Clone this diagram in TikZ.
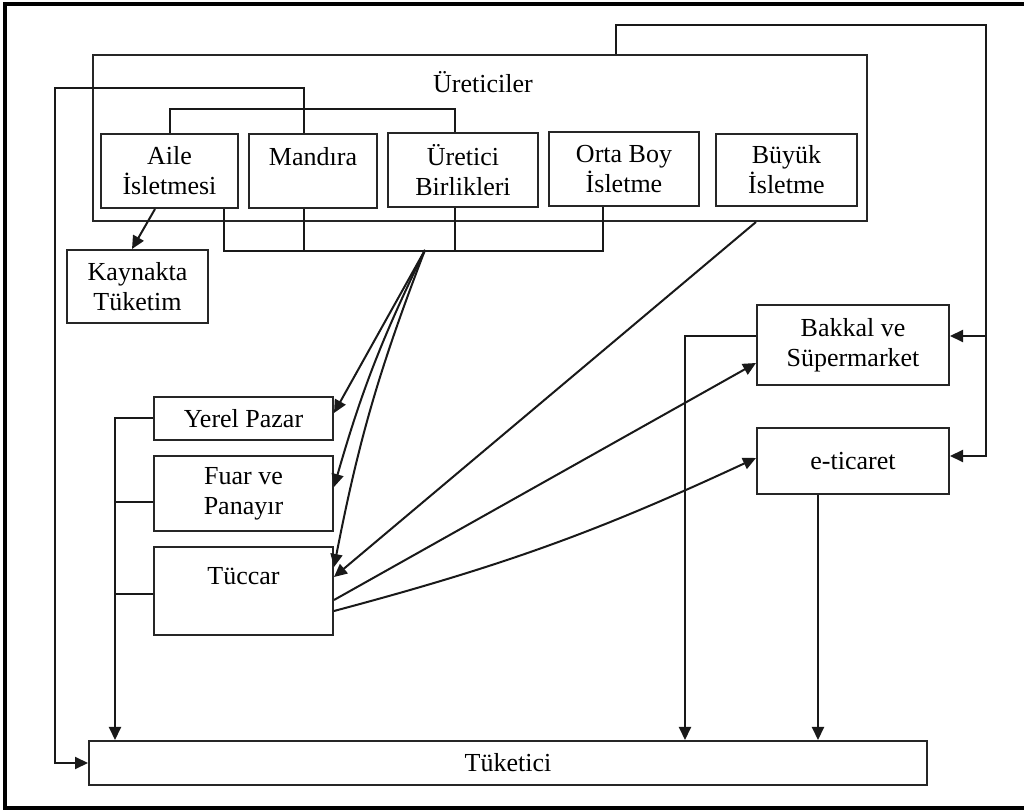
\documentclass[tikz,border=0pt]{standalone}
\usepackage{fontspec}
\setmainfont{Liberation Serif}
\usetikzlibrary{arrows.meta}

\begin{document}
\begin{tikzpicture}[x=0.5pt,y=-0.5pt,
  >={Triangle[length=6.5pt,width=6pt]},
  box/.style={draw=black!85,line width=1pt,inner sep=0pt,align=center,
    font=\fontsize{13}{15}\selectfont},
  link/.style={black!90,line width=1pt}]
  \useasboundingbox (0,0) rectangle (1024,812);
  % outer frame
  \draw[line width=1.6pt] (1024,4) -- (5,4) -- (5,808) -- (1024,808);
  % producers group
  \node[box,minimum width=387pt,minimum height=83pt] (uret) at (480,138) {};
  \node[box,draw=none] (uretlbl) at (483,82) {Üreticiler};
  \node[box,minimum width=68.5pt,minimum height=37pt] (aile) at (169.5,171) {Aile\\İsletmesi};
  \node[box,minimum width=64pt,minimum height=37pt] (mandira) at (313,171) {Mandıra\\\mbox{}};
  \node[box,minimum width=75pt,minimum height=37pt] (birlik) at (463,170) {Üretici\\Birlikleri};
  \node[box,minimum width=75pt,minimum height=37pt] (ortaboy) at (624,169) {Orta Boy\\İsletme};
  \node[box,minimum width=70.5pt,minimum height=36pt] (buyuk) at (786.5,170) {Büyük\\İsletme};
  \node[box,minimum width=70.5pt,minimum height=36.5pt] (kaynak) at (137.5,286.5) {Kaynakta\\Tüketim};
  % channels
  \node[box,minimum width=89.5pt,minimum height=21.5pt] (yerel) at (243.5,418.5) {Yerel Pazar};
  \node[box,minimum width=89.5pt,minimum height=37.5pt] (fuar) at (243.5,493.5) {Fuar ve\\Panayır};
  \node[box,minimum width=89.5pt,minimum height=44pt] (tuccar) at (243.5,591) {Tüccar\\\mbox{}};
  \node[box,minimum width=96pt,minimum height=40pt] (bakkal) at (853,345) {Bakkal ve\\Süpermarket};
  \node[box,minimum width=96pt,minimum height=33pt] (eticaret) at (853,461) {e-ticaret};
  \node[box,minimum width=419pt,minimum height=22pt] (tuketici) at (508,763) {Tüketici};
  % helper points
  \coordinate (rbus) at (986,25);
  \coordinate (lbus) at (55,88);
  \coordinate (fan) at (425,250);

  % links between producers
  \draw[link] (aile.north) -- ++(0,-24) -| ([xshift=-4pt]birlik.north);
  \draw[link] ([xshift=27.25pt]aile.south) -- ++(0,42) -| ([xshift=-10.5pt]ortaboy.south);
  \draw[link] ([xshift=-4.5pt]mandira.south) -- ++(0,42);
  \draw[link] ([xshift=-4pt]birlik.south) -- ++(0,43);
  \draw[link,->] ([xshift=-7.25pt]aile.south) -- ([xshift=-2.75pt]kaynak.north);
  % mandira straight to consumer
  \draw[link,->] ([xshift=-4.5pt]mandira.north) |- (lbus) |- (tuketici.west);
  % outer loop to retail
  \draw[link,->] ([xshift=68pt]uret.north) |- (rbus) |- ([yshift=2.5pt]eticaret.east);
  \draw[link,->] (rbus |- bakkal.east) ++(0,-9) -- ([yshift=4.5pt]bakkal.east);
  % fan to local channels
  \draw[link,->] (fan) -- ([yshift=2.75pt]yerel.east);
  \draw[link,->] (fan) to[bend right=5] ([yshift=3.25pt]fuar.east);
  \draw[link,->] (fan) to[bend right=5] ([yshift=12pt]tuccar.east);
  \draw[link,->] ([xshift=138pt]uret.south) -- ([yshift=7pt]tuccar.east);
  \draw[link,->] ([yshift=-4.5pt]tuccar.east) -- ([yshift=-9pt]bakkal.west);
  \draw[link,->] ([yshift=-10pt]tuccar.east) to[bend right=5] ([yshift=1.5pt]eticaret.west);
  % to consumer
  \draw[link,->] (yerel.west) -- ++(-38,0) coordinate (lb) -- (lb |- tuketici.north);
  \draw[link] ([yshift=-4.5pt]fuar.west) -- ++(-38,0);
  \draw[link] ([yshift=-1.5pt]tuccar.west) -- ++(-38,0);
  \draw[link,->] ([yshift=4.5pt]bakkal.west) -| ([xshift=88.5pt]tuketici.north);
  \draw[link,->] ([xshift=-17.5pt]eticaret.south) -- ([xshift=-17.5pt]eticaret.south |- tuketici.north);
\end{tikzpicture}
\end{document}
